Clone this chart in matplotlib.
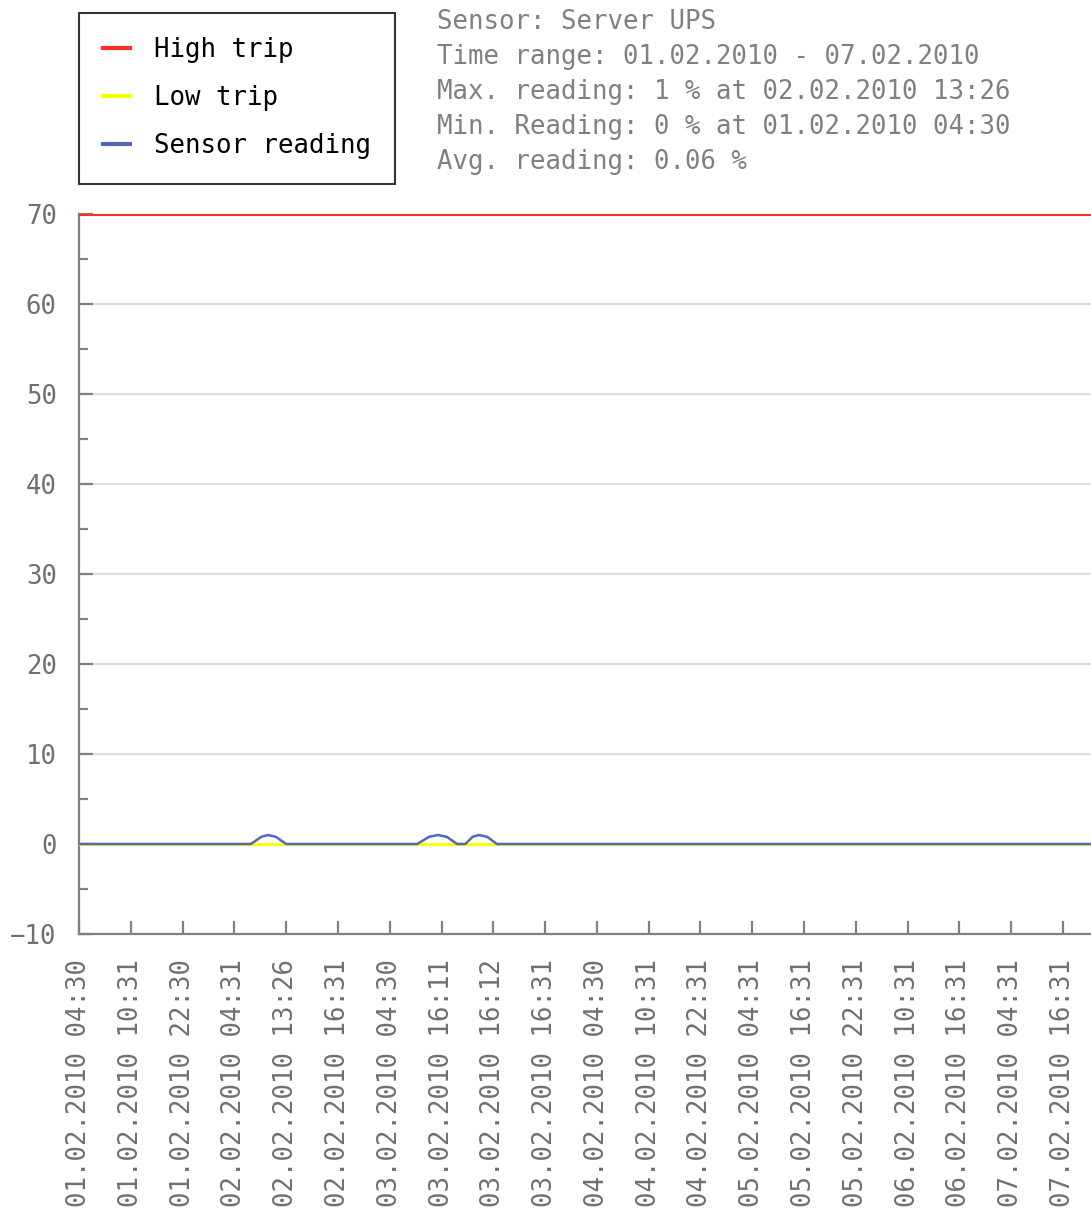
import numpy as np
import matplotlib.pyplot as plt
from matplotlib.ticker import MultipleLocator

# category labels along the x axis
time_labels = ['01.02.2010 04:30', '01.02.2010 10:31', '01.02.2010 22:30',
               '02.02.2010 04:31', '02.02.2010 13:26', '02.02.2010 16:31',
               '03.02.2010 04:30', '03.02.2010 16:11', '03.02.2010 16:12',
               '03.02.2010 16:31', '04.02.2010 04:30', '04.02.2010 10:31',
               '04.02.2010 22:31', '05.02.2010 04:31', '05.02.2010 16:31',
               '05.02.2010 22:31', '06.02.2010 10:31', '06.02.2010 16:31',
               '07.02.2010 04:31', '07.02.2010 16:31']

# sensor reading samples (position in label units, value in %)
reading_pos = [0, 3.32, 3.52, 3.65, 3.80, 4.0, 6.53, 6.76, 6.93, 7.10, 7.30,
               7.46, 7.60, 7.72, 7.88, 8.07, 19.6]
reading_val = [0, 0, 0.8, 1, 0.8, 0, 0, 0.8, 1, 0.8, 0, 0, 0.8, 1, 0.8, 0, 0]

high_trip = 70
low_trip = 0

info_lines = ['Sensor: Server UPS',
              'Time range: 01.02.2010 - 07.02.2010',
              'Max. reading: 1 % at 02.02.2010 13:26',
              'Min. Reading: 0 % at 01.02.2010 04:30',
              'Avg. reading: 0.06 %']

plt.rcParams['font.family'] = ['DejaVu Sans Mono']
fs = 18.5
grey = '#707070'

fig = plt.figure(figsize=(10.91, 12.16), dpi=100)
ax = fig.add_axes([79/1091, 1 - 934/1216, 1 - 79/1091, (934 - 214)/1216])

xmax = 19.54
ax.plot([0, xmax], [high_trip, high_trip], color='#ff2a2a', lw=2.2, label='High trip', zorder=3)
ax.plot([0, xmax], [low_trip, low_trip], color='#ffff00', lw=2.2, label='Low trip', zorder=3)
ax.plot(reading_pos, reading_val, color='#5566bb', lw=1.8, label='Sensor reading', zorder=4)

ax.set_xlim(0, xmax)
ax.set_ylim(-10, 70)
ax.yaxis.set_major_locator(MultipleLocator(10))
ax.yaxis.set_minor_locator(MultipleLocator(5))
ax.set_xticks(np.arange(len(time_labels)))
ax.set_xticklabels(time_labels, rotation=90, va='top')

ax.grid(axis='y', which='major', color='#dddddd', lw=1.5, zorder=0)
ax.set_axisbelow(True)

for s in ['top', 'right']:
    ax.spines[s].set_visible(False)
for s in ['left', 'bottom']:
    ax.spines[s].set_color('#808080')
    ax.spines[s].set_linewidth(1.6)

ax.tick_params(axis='y', which='major', direction='in', length=10, width=1.6,
               color='#808080', labelcolor=grey, labelsize=fs, pad=16)
ax.tick_params(axis='y', which='minor', direction='in', length=6.5, width=1.6,
               color='#808080')
ax.tick_params(axis='x', direction='in', length=9.5, width=1.6,
               color='#808080', labelcolor=grey, labelsize=fs, pad=18)

leg = fig.legend(loc='upper left', bbox_to_anchor=(79/1091, 1 - 13/1216),
                 frameon=True, fancybox=False, fontsize=fs, handlelength=1.05,
                 handletextpad=0.9, labelspacing=0.85, borderpad=0.95,
                 borderaxespad=0)
leg.get_frame().set_edgecolor('black')
leg.get_frame().set_linewidth(1.5)
for line in leg.get_lines():
    line.set_linewidth(3)

for i, txt in enumerate(info_lines):
    fig.text(437/1091, 1 - (22 + 35*i)/1216, txt, color='#808080',
             fontsize=fs, va='center', ha='left')

fig.savefig('out.png', dpi=100)
